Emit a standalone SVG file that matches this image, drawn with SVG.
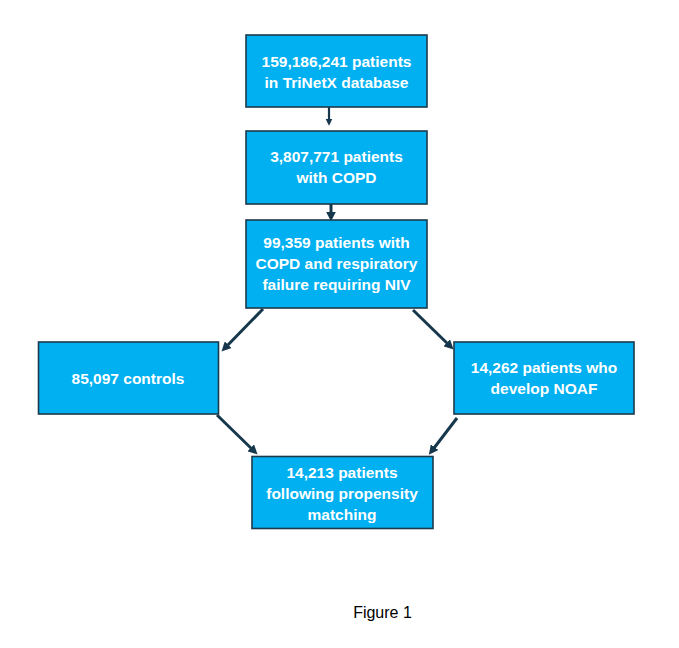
<svg xmlns="http://www.w3.org/2000/svg" width="679" height="648" viewBox="0 0 679 648">
<style>
.box{fill:#00B0F0;stroke:#1C3A4C;stroke-width:1.6}
.t{fill:#FFFFFF;font-family:"Liberation Sans",Arial,sans-serif;font-weight:bold;font-size:15.5px;text-anchor:middle}
.c{stroke:#17384C;stroke-width:3;fill:none;marker-end:url(#ah)}
.c2{stroke:#17384C;stroke-width:2.2;fill:none;marker-end:url(#ah)}
.cap{fill:#000;font-family:"Liberation Sans",Arial,sans-serif;font-size:16px;text-anchor:middle}
</style>
<defs>
<marker id="ah" markerWidth="3.2" markerHeight="3.2" refX="2" refY="1.6" orient="auto" markerUnits="strokeWidth">
<path d="M0,0 L3.2,1.6 L0,3.2 Z" fill="#17384C"/>
</marker>
</defs>
<rect width="679" height="648" fill="#FFFFFF"/>
<g id="connectors">
<line class="c2" x1="329" y1="107" x2="329" y2="123"/>
<line class="c" x1="331" y1="204" x2="331" y2="218"/>
<line class="c" x1="263" y1="309" x2="224" y2="349"/>
<line class="c" x1="413" y1="310" x2="451" y2="347"/>
<line class="c" x1="217" y1="415" x2="255" y2="452"/>
<line class="c" x1="457" y1="418" x2="431" y2="452"/>
</g>
<g id="n1">
<rect class="box" x="246" y="35" width="181" height="72"/>
<text class="t" x="336.5" y="66.5">159,186,241 patients</text>
<text class="t" x="336.5" y="87.5">in TriNetX database</text>
</g>
<g id="n2">
<rect class="box" x="246" y="131" width="181" height="73"/>
<text class="t" x="336.5" y="161.5">3,807,771 patients</text>
<text class="t" x="336.5" y="183">with COPD</text>
</g>
<g id="n3">
<rect class="box" x="246" y="220" width="181" height="88"/>
<text class="t" x="336.5" y="247.5">99,359 patients with</text>
<text class="t" x="336.5" y="269">COPD and respiratory</text>
<text class="t" x="336.5" y="290">failure requiring NIV</text>
</g>
<g id="n4">
<rect class="box" x="38.5" y="342" width="180" height="72"/>
<text class="t" x="128" y="384">85,097 controls</text>
</g>
<g id="n5">
<rect class="box" x="454" y="342" width="180" height="72"/>
<text class="t" x="544" y="372.5">14,262 patients who</text>
<text class="t" x="544" y="394">develop NOAF</text>
</g>
<g id="n6">
<rect class="box" x="252" y="456.5" width="181" height="72"/>
<text class="t" x="342" y="477.5">14,213 patients</text>
<text class="t" x="342" y="499">following propensity</text>
<text class="t" x="342" y="520">matching</text>
</g>
<text class="cap" x="382.5" y="618">Figure 1</text>
</svg>
